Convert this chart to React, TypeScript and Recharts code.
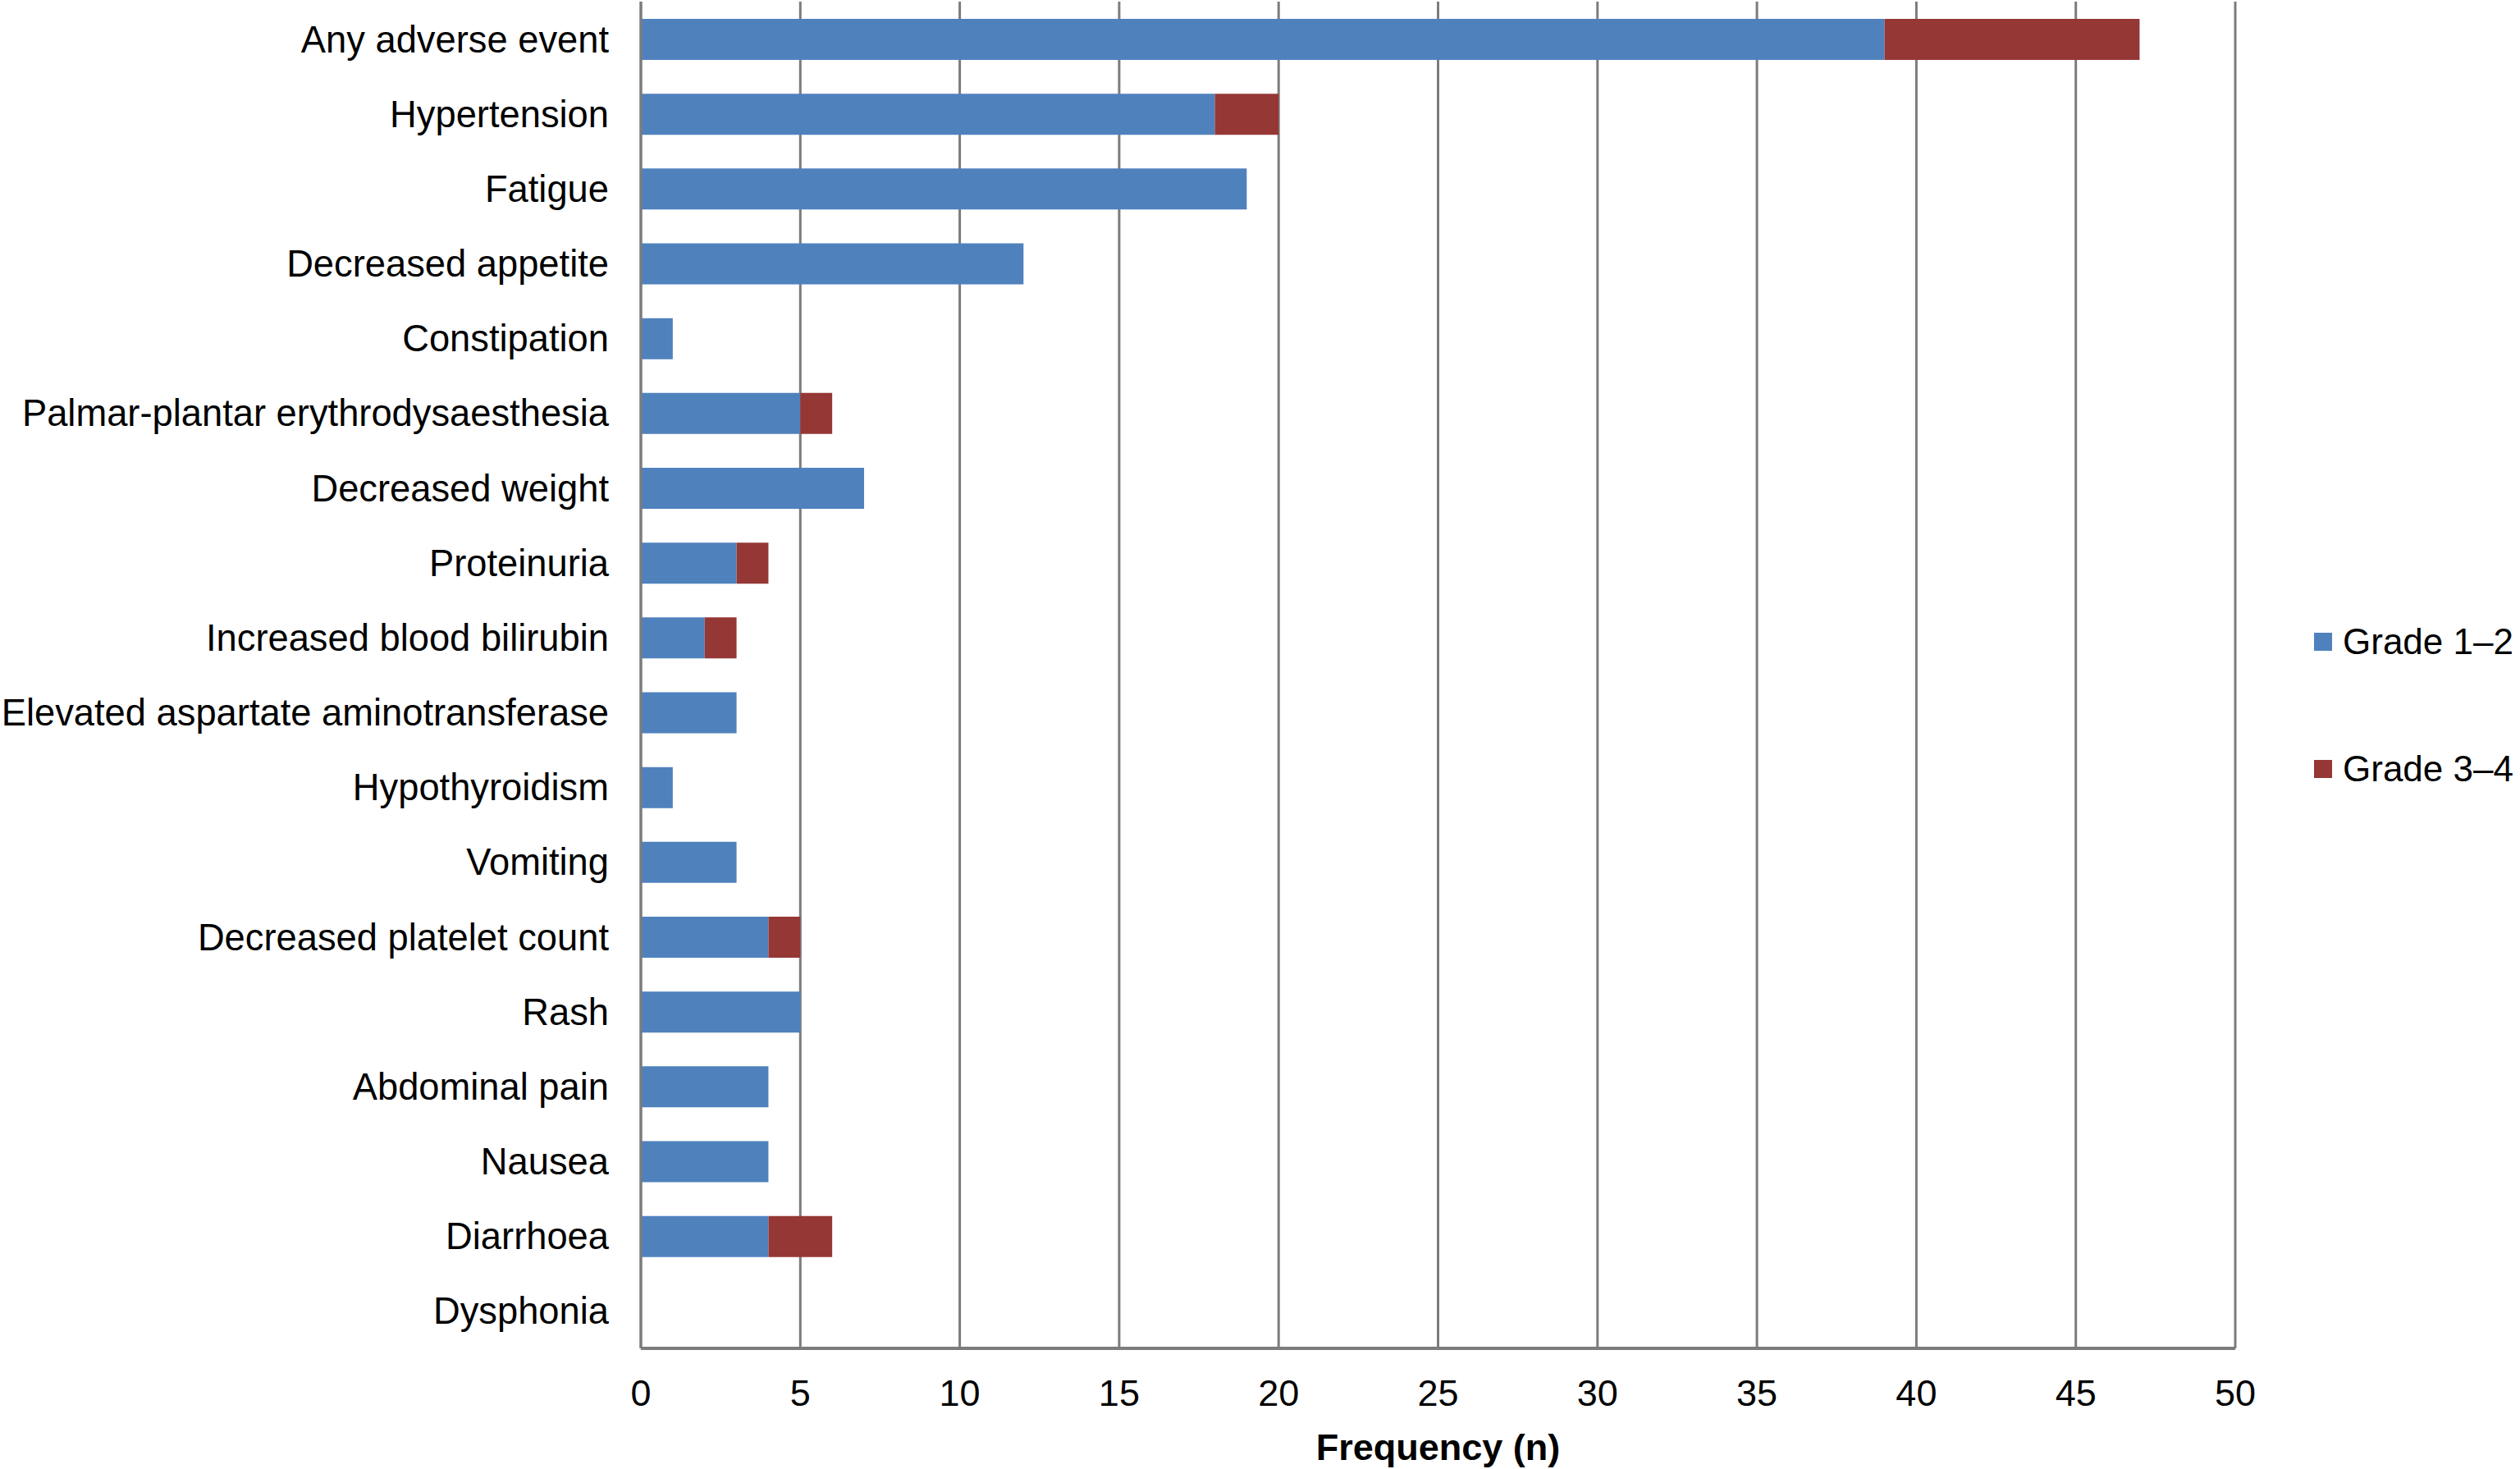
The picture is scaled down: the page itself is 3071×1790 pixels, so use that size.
import React from 'react';
import { BarChart, Bar, XAxis, YAxis, CartesianGrid, Legend } from 'recharts';

const categories = [
  'Any adverse event',
  'Hypertension',
  'Fatigue',
  'Decreased appetite',
  'Constipation',
  'Palmar-plantar erythrodysaesthesia',
  'Decreased weight',
  'Proteinuria',
  'Increased blood bilirubin',
  'Elevated aspartate aminotransferase',
  'Hypothyroidism',
  'Vomiting',
  'Decreased platelet count',
  'Rash',
  'Abdominal pain',
  'Nausea',
  'Diarrhoea',
  'Dysphonia',
];

const grade12 = [39, 18, 19, 12, 1, 5, 7, 3, 2, 3, 1, 3, 4, 5, 4, 4, 4, 0];
const grade34 = [8, 2, 0, 0, 0, 1, 0, 1, 1, 0, 0, 0, 1, 0, 0, 0, 2, 0];

const xTicks = [0, 5, 10, 15, 20, 25, 30, 35, 40, 45, 50];

const BLUE = '#4F81BD';
const RED = '#953735';
const GRID = '#7c7c7c';
const FONT = '"Liberation Sans", Arial, sans-serif';

const data = categories.map((name, i) => ({
  name,
  g12: grade12[i],
  g34: grade34[i],
}));

const LegendBox = (props: any) => {
  const items = props.payload || [];
  return (
    <div style={{ fontFamily: FONT, fontSize: 44, color: '#000' }}>
      {items.map((it: any, i: number) => (
        <div
          key={it.value}
          style={{ display: 'flex', alignItems: 'center', height: 52, marginTop: i === 0 ? 0 : 103, whiteSpace: 'nowrap' }}
        >
          <span style={{ display: 'inline-block', width: 22, height: 22, background: it.color, marginRight: 13 }} />
          <span>{it.value}</span>
        </div>
      ))}
    </div>
  );
};

const App: React.FC = () => (
  <div style={{ position: 'absolute', left: 0, top: 0, background: '#fff' }}>
    <BarChart
      width={3071}
      height={1790}
      data={data}
      layout="vertical"
      margin={{ top: 2, right: 347, bottom: 0, left: 0 }}
    >
      <CartesianGrid horizontal={false} vertical stroke={GRID} strokeWidth={3} />
      <XAxis
        type="number"
        domain={[0, 50]}
        ticks={xTicks}
        interval={0}
        height={147}
        axisLine={{ stroke: GRID, strokeWidth: 4 }}
        tickLine={false}
        tickSize={0}
        tickMargin={38}
        tick={{ fill: '#000', fontSize: 45, fontFamily: FONT }}
        label={{
          value: 'Frequency (n)',
          position: 'insideBottom',
          offset: 11,
          fill: '#000',
          fontSize: 45,
          fontWeight: 'bold',
          fontFamily: FONT,
        }}
      />
      <YAxis
        type="category"
        dataKey="name"
        width={781}
        interval={0}
        axisLine={{ stroke: GRID, strokeWidth: 3 }}
        tickLine={false}
        tickSize={0}
        tickMargin={39}
        tick={{ fill: '#000', fontSize: 45.3, fontFamily: FONT }}
      />
      <Legend
        layout="vertical"
        align="center"
        verticalAlign="middle"
        content={<LegendBox />}
        wrapperStyle={{ left: 2820, top: 756, width: 251 }}
      />
      <Bar dataKey="g12" name="Grade 1–2" stackId="a" fill={BLUE} barSize={50} isAnimationActive={false} />
      <Bar dataKey="g34" name="Grade 3–4" stackId="a" fill={RED} barSize={50} isAnimationActive={false} />
    </BarChart>
  </div>
);

export default App;
